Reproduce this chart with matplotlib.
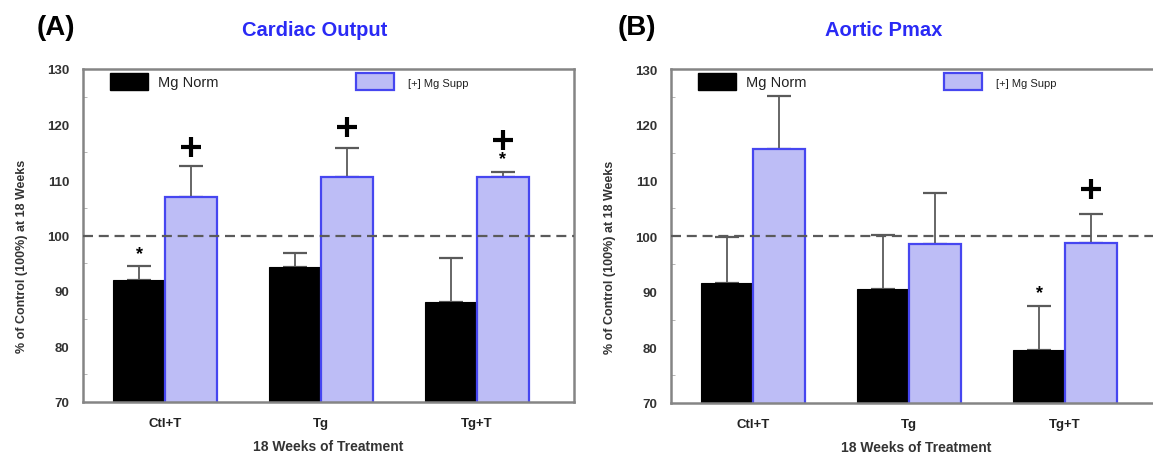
import matplotlib
matplotlib.use("Agg")
import matplotlib.pyplot as plt
from matplotlib.patches import Rectangle
import numpy as np

plt.rcParams['font.family'] = ['Liberation Sans', 'DejaVu Sans']

categories = ["Ctl+T", "Tg", "Tg+T"]

# Panel A: Cardiac Output
co_norm = [91.9, 94.3, 88.0]
co_norm_err = [2.6, 2.5, 7.9]
co_supp = [107.0, 110.5, 110.5]
co_supp_err = [5.5, 5.3, 0.9]

# Panel B: Aortic Pmax
ap_norm = [91.6, 90.4, 79.6]
ap_norm_err = [8.2, 9.7, 7.9]
ap_supp = [115.7, 98.6, 98.8]
ap_supp_err = [9.5, 9.2, 5.1]

# significance markers: (group index, y) / (group index, series, y)
co_plus = [(0, 116.0), (1, 119.5), (2, 117.2)]
co_star = [(0, "norm", 96.7), (2, "supp", 113.8)]
ap_plus = [(2, 108.5)]
ap_star = [(2, "norm", 89.8)]

W, H = 1153, 456
fig = plt.figure(figsize=(W / 100, H / 100), dpi=100)

BLUE_FILL = "#bdbdf6"
BLUE_EDGE = "#4646f0"
SPINE = "#858585"
TXT = "#333333"
TITLE_BLUE = "#2a2af5"

bw = 0.333


def px(x0, y0, x1, y1):
    return [x0 / W, 1 - y1 / H, (x1 - x0) / W, (y1 - y0) / H]


def panel(rect, norm, norm_err, supp, supp_err, plus, stars):
    ax = fig.add_axes(rect)
    x = np.arange(len(categories))
    xn = x - bw / 2
    xs = x + bw / 2
    ax.bar(xn, norm, bw, color="black", edgecolor="black", lw=0.8, zorder=2)
    ax.bar(xs, supp, bw, color=BLUE_FILL, edgecolor=BLUE_EDGE, lw=1.6, zorder=2)
    ax.errorbar(xn, norm, yerr=[np.zeros(3), norm_err], fmt="none", ecolor="#5a5a5a",
                elinewidth=1.3, capsize=8.5, capthick=1.6, zorder=1)
    ax.errorbar(xs, supp, yerr=[np.zeros(3), supp_err], fmt="none", ecolor="#5a5a5a",
                elinewidth=1.3, capsize=8.5, capthick=1.6, zorder=1)
    ax.axhline(100, color="#5a5a5a", lw=1.6, ls=(0, (4.5, 2.6)), zorder=3)
    for gi, y in plus:
        ax.plot(x[gi] + bw / 2, y, marker="+", ms=15, mew=3.0, color="black", zorder=4)
    for gi, s, y in stars:
        xx = x[gi] - bw / 2 if s == "norm" else x[gi] + bw / 2
        ax.text(xx, y, "*", ha="center", va="center", fontsize=13, fontweight="bold", zorder=4)
    ax.set_ylim(70, 130)
    ax.set_xlim(-0.526, 2.622)
    ax.set_yticks(np.arange(70, 131, 10))
    ax.set_yticks(np.arange(75, 130, 10), minor=True)
    ax.tick_params(axis="y", which="major", length=0, pad=10, labelsize=9.5, labelcolor=TXT)
    ax.tick_params(axis="y", which="minor", direction="in", length=3, color="#aaaaaa")
    for t in ax.get_yticklabels():
        t.set_fontweight("bold")
    ax.set_xticks(x)
    ax.set_xticklabels(categories, fontweight="bold", fontsize=9.5, color="#222222")
    ax.tick_params(axis="x", length=0, pad=11)
    ax.set_xlabel("18 Weeks of Treatment", fontweight="bold", fontsize=10, color=TXT, labelpad=7)
    ax.set_ylabel("% of Control (100%) at 18 Weeks", fontweight="bold", fontsize=9, color=TXT)
    ax.yaxis.set_label_coords(-0.112, 0.44)
    for sp in ax.spines.values():
        sp.set_color(SPINE)
        sp.set_linewidth(1.8)
    # legend drawn in axes fraction
    ax.add_patch(Rectangle((0.055, 0.937), 0.078, 0.051, transform=ax.transAxes,
                           facecolor="black", edgecolor="black", clip_on=False, zorder=5))
    ax.text(0.153, 0.962, "Mg Norm", transform=ax.transAxes, fontsize=10.5,
            va="center", ha="left", color="#222222")
    ax.add_patch(Rectangle((0.555, 0.937), 0.078, 0.051, transform=ax.transAxes,
                           facecolor=BLUE_FILL, edgecolor=BLUE_EDGE, lw=1.6, clip_on=False, zorder=5))
    ax.text(0.662, 0.958, "[+] Mg Supp", transform=ax.transAxes, fontsize=8,
            va="center", ha="left", color="#222222")
    return ax


axA = panel(px(83, 70, 574, 403), co_norm, co_norm_err, co_supp, co_supp_err, co_plus, co_star)
axB = panel(px(671, 70, 1162, 404), ap_norm, ap_norm_err, ap_supp, ap_supp_err, ap_plus, ap_star)

fig.text(37 / W, 1 - 28 / H, "(A)", fontsize=20, fontweight="bold", va="center", ha="left")
fig.text(315 / W, 1 - 30 / H, "Cardiac Output", fontsize=14.5, fontweight="bold",
         color=TITLE_BLUE, va="center", ha="center")
fig.text(618 / W, 1 - 28 / H, "(B)", fontsize=20, fontweight="bold", va="center", ha="left")
fig.text(884 / W, 1 - 30 / H, "Aortic Pmax", fontsize=14.5, fontweight="bold",
         color=TITLE_BLUE, va="center", ha="center")

fig.savefig("out.png", dpi=100)
